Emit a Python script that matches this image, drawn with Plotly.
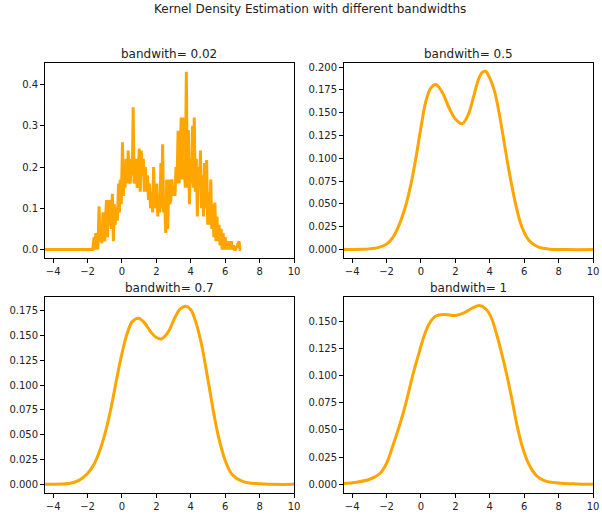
import plotly.graph_objects as go

# ---- data ----
bw_labels = ["bandwith= 0.02", "bandwith= 0.5", "bandwith= 0.7", "bandwith= 1"]

x_bw002 = [-4.5, -1.7, -1.62, -1.58, -1.52, -1.46, -1.4, -1.33, -1.28, -1.22, -1.17, -1.1, -1.05, -1.0,
           -0.95, -0.9, -0.84, -0.78, -0.74, -0.68, -0.62, -0.56, -0.5, -0.45, -0.4, -0.33, -0.27,
           -0.2, -0.15, -0.1, -0.04, 0.03, 0.08, 0.13, 0.18, 0.24, 0.3, 0.36, 0.42, 0.48, 0.54, 0.6,
           0.65, 0.7, 0.76, 0.82, 0.88, 0.94, 1.0, 1.06, 1.12, 1.18, 1.24, 1.3, 1.36, 1.42, 1.48,
           1.54, 1.6, 1.66, 1.72, 1.78, 1.84, 1.9, 1.96, 2.02, 2.08, 2.14, 2.2, 2.26, 2.31, 2.36,
           2.42, 2.48, 2.54, 2.6, 2.66, 2.72, 2.78, 2.84, 2.9, 2.96, 3.02, 3.08, 3.14, 3.2, 3.26,
           3.32, 3.38, 3.44, 3.5, 3.56, 3.62, 3.68, 3.74, 3.8, 3.86, 3.92, 3.98, 4.04, 4.1, 4.15,
           4.2, 4.26, 4.32, 4.38, 4.44, 4.5, 4.56, 4.62, 4.68, 4.74, 4.8, 4.86, 4.92, 4.98, 5.04,
           5.1, 5.16, 5.22, 5.28, 5.34, 5.4, 5.46, 5.52, 5.58, 5.64, 5.7, 5.76, 5.82, 5.88, 5.94,
           6.0, 6.06, 6.12, 6.18, 6.24, 6.3, 6.36, 6.42, 6.48, 6.54, 6.6, 6.8, 6.86, 6.92, 10.0]
y_bw002 = [0.0, 0.0, 0.03, 0.0, 0.04, 0.02, 0.0, 0.105, 0.02, 0.06, 0.015, 0.09, 0.04, 0.02,
           0.08, 0.12, 0.03, 0.12, 0.06, 0.12, 0.05, 0.135, 0.02, 0.11, 0.06, 0.10, 0.07,
           0.16, 0.09, 0.17, 0.11, 0.26, 0.13, 0.20, 0.15, 0.22, 0.16, 0.24, 0.17, 0.16, 0.22, 0.18,
           0.345, 0.16, 0.18, 0.22, 0.15, 0.16, 0.245, 0.14, 0.24, 0.18, 0.22, 0.14, 0.20, 0.14, 0.18,
           0.12, 0.16, 0.10, 0.14, 0.09, 0.20, 0.12, 0.10, 0.16, 0.08, 0.13, 0.09, 0.21, 0.10, 0.255,
           0.09, 0.12, 0.04, 0.17, 0.05, 0.17, 0.11, 0.12, 0.17, 0.13, 0.15, 0.13, 0.20, 0.16, 0.288,
           0.16, 0.22, 0.32, 0.17, 0.32, 0.20, 0.15, 0.431, 0.15, 0.29, 0.11, 0.22, 0.16, 0.30, 0.15,
           0.32, 0.14, 0.22, 0.08, 0.20, 0.15, 0.24, 0.10, 0.18, 0.08, 0.21, 0.10, 0.217, 0.06, 0.14,
           0.06, 0.17, 0.05, 0.11, 0.03, 0.114, 0.02, 0.08, 0.02, 0.06, 0.01, 0.05, 0.0, 0.04,
           0.0, 0.03, 0.0, 0.02, 0.0, 0.02, 0.0, 0.02, 0.0, 0.01, 0.0, 0.0, 0.02, 0.0, 0.0]

x_bw05 = [-4.5, -3.5, -3.0, -2.5, -2.0, -1.63, -1.25, -0.86, -0.58, -0.29, 0.0, 0.29, 0.57, 0.86,
          1.25, 1.63, 2.01, 2.4, 2.75, 3.05, 3.35, 3.55, 3.75, 4.0, 4.27, 4.54, 4.77, 4.99, 5.23,
          5.5, 5.86, 6.28, 6.8, 7.5, 8.5, 10.0]
y_bw05 = [0.0, 0.0003, 0.0008, 0.0022, 0.006, 0.0135, 0.028, 0.05, 0.072, 0.101, 0.134, 0.163, 0.177,
          0.181, 0.172, 0.1555, 0.143, 0.138, 0.148, 0.167, 0.187, 0.194, 0.1955, 0.188, 0.174,
          0.15, 0.125, 0.1, 0.075, 0.05, 0.025, 0.01, 0.003, 0.0005, 0.0, 0.0]

x_bw07 = [-4.5, -3.5, -3.0, -2.5, -2.0, -1.6, -1.25, -0.9, -0.6, -0.3, 0.0, 0.3, 0.6, 0.96, 1.3,
          1.7, 2.0, 2.3, 2.7, 3.1, 3.4, 3.7, 4.0, 4.3, 4.6, 4.85, 5.1, 5.35, 5.65, 6.0, 6.4,
          7.0, 8.0, 10.0]
y_bw07 = [0.0, 0.0003, 0.001, 0.004, 0.011, 0.021, 0.036, 0.057, 0.08, 0.107, 0.132, 0.152, 0.164,
          0.1675, 0.163, 0.153, 0.148, 0.1467, 0.154, 0.169, 0.177, 0.1795, 0.176, 0.163, 0.143,
          0.12, 0.095, 0.07, 0.045, 0.024, 0.01, 0.003, 0.0005, 0.0]

x_bw1 = [-4.5, -3.74, -2.97, -2.4, -2.01, -1.63, -1.25, -0.86, -0.48, -0.1, 0.19, 0.48, 0.86, 1.34,
         2.01, 2.5, 3.0, 3.4, 3.8, 4.1, 4.4, 4.7, 5.0, 5.3, 5.6, 5.9, 6.25, 6.7, 7.2, 8.0, 9.0, 10.0]
y_bw1 = [0.0006, 0.0018, 0.0045, 0.0096, 0.0188, 0.0357, 0.054, 0.0757, 0.1003, 0.1218, 0.137, 0.148,
         0.155, 0.1565, 0.1556, 0.158, 0.1625, 0.1648, 0.161, 0.153, 0.138, 0.12, 0.1, 0.077, 0.053,
         0.034, 0.019, 0.008, 0.003, 0.001, 0.0002, 0.0]

x_ticks = [-4, -2, 0, 2, 4, 6, 8, 10]
x_tick_text = ["\u22124", "\u22122", "0", "2", "4", "6", "8", "10"]
y_ticks_002 = [0.0, 0.1, 0.2, 0.3, 0.4]
y_ticks_05 = [0.0, 0.025, 0.05, 0.075, 0.1, 0.125, 0.15, 0.175, 0.2]
y_ticks_07 = [0.0, 0.025, 0.05, 0.075, 0.1, 0.125, 0.15, 0.175]
y_ticks_1 = [0.0, 0.025, 0.05, 0.075, 0.1, 0.125, 0.15]

series = [(x_bw002, y_bw002, y_ticks_002, ".1f", [-0.0217, 0.4526]),
          (x_bw05, y_bw05, y_ticks_05, ".3f", [-0.00975, 0.2047]),
          (x_bw07, y_bw07, y_ticks_07, ".3f", [-0.0088, 0.1884]),
          (x_bw1, y_bw1, y_ticks_1, ".3f", [-0.0082, 0.1722])]

W, H = 602, 515
# axis boxes in pixels: (left, right, top, bottom)
boxes = [(45, 297, 62, 258), (347, 599, 62, 258), (45, 297, 297, 493), (347, 599, 297, 493)]

fig = go.Figure()
layout = dict(width=W, height=H, margin=dict(l=0, r=0, t=0, b=0),
              paper_bgcolor="white", plot_bgcolor="white", showlegend=False,
              font=dict(family="DejaVu Sans", size=10, color="#222222"))
annotations = []
for i, ((xs, ys, yt, fmt, yr), (l, r, t, b)) in enumerate(zip(series, boxes)):
    n = "" if i == 0 else str(i + 1)
    fig.add_trace(go.Scatter(x=xs, y=ys, mode="lines",
                             line=dict(color="#FFA500", width=3,
                                       shape="linear" if i == 0 else "spline", smoothing=1.0),
                             xaxis="x" + n, yaxis="y" + n, hoverinfo="skip"))
    common = dict(showgrid=False, zeroline=False, showline=True, linecolor="#000000",
                  linewidth=1, mirror=True, ticks="outside", ticklen=3.5, tickwidth=1,
                  tickcolor="#000000", tickfont=dict(size=10, family="DejaVu Sans", color="#222222"))
    layout["xaxis" + n] = dict(domain=[l / W, r / W], range=[-4.5, 10], anchor="y" + n,
                               tickvals=x_ticks, ticktext=x_tick_text, **common)
    layout["yaxis" + n] = dict(domain=[1 - b / H, 1 - t / H], range=yr, anchor="x" + n,
                               tickvals=yt, tickformat=fmt, **common)
    annotations.append(dict(text=bw_labels[i], x=(l + r) / 2 / W, y=1 - (t - 1) / H,
                            xref="paper", yref="paper", xanchor="center", yanchor="bottom",
                            yshift=-1, showarrow=False,
                            font=dict(size=12, family="DejaVu Sans", color="#222222")))

annotations.append(dict(text="Kernel Density Estimation with different bandwidths",
                        x=313 / W, y=1.0, xref="paper", yref="paper",
                        xanchor="center", yanchor="top", yshift=1, showarrow=False,
                        font=dict(size=12, family="DejaVu Sans", color="#222222")))
layout["annotations"] = annotations
fig.update_layout(**layout)
fig.write_html("out.html")
